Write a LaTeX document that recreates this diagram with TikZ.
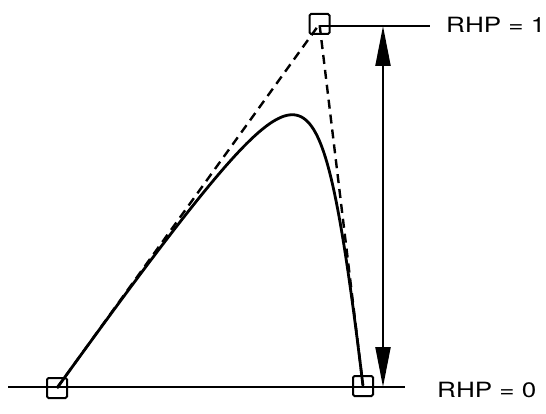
\documentclass[tikz,border=0pt]{standalone}
\usepackage{fontspec}
\setmainfont{TeX Gyre Heros}
\usetikzlibrary{arrows.meta}
\tikzset{
  ctrl/.style={draw, line width=2pt, minimum size=20pt, inner sep=0pt, rounded corners=1.5pt},
  baseline/.style={line width=2.2pt},
  poly/.style={line width=2.4pt, dash pattern=on 9pt off 6pt},
  curve/.style={line width=2.8pt},
  dblarrow/.style={line width=2.2pt, {Triangle[length=40pt,width=15pt]}-{Triangle[length=40pt,width=15pt]}},
  lbl/.style={anchor=west, inner sep=0pt, font=\fontsize{21}{22}\selectfont}
}
\begin{document}
\begin{tikzpicture}[x=1pt,y=-1pt]
\useasboundingbox (0,0) rectangle (546,414);
\node[ctrl] (a) at (57,388) {};
\node[ctrl] (t) at (319.5,24) {};
\node[ctrl] (c) at (363,386) {};
\coordinate (l0) at (8,387);
\coordinate (r0) at (405,387);
\coordinate (r1) at (430,26);
\coordinate (ar1) at (383,26);
\coordinate (ar0) at (383,387);
\draw[baseline] (l0) -- (r0);
\draw[baseline] (t.center |- r1) -- (r1);
\draw[poly] (a.center) -- (t.center) -- (c.center);
\draw[curve] plot[domain=0:1, samples=160, variable=\t, smooth]
  ({((1-\t)^2*57 + 6*\t*(1-\t)*319.5 + \t^2*363)/((1-\t)^2 + 6*\t*(1-\t) + \t^2)},
   {((1-\t)^2*388 + 6*\t*(1-\t)*24 + \t^2*386)/((1-\t)^2 + 6*\t*(1-\t) + \t^2)});
\draw[dblarrow] (ar1) -- (ar0);
\node[lbl] (lab1) at (446,25) {\scalebox{1.24}[1]{RHP = 1}};
\node[lbl] (lab0) at (437,390) {\scalebox{1.24}[1]{RHP = 0}};
\end{tikzpicture}
\end{document}
